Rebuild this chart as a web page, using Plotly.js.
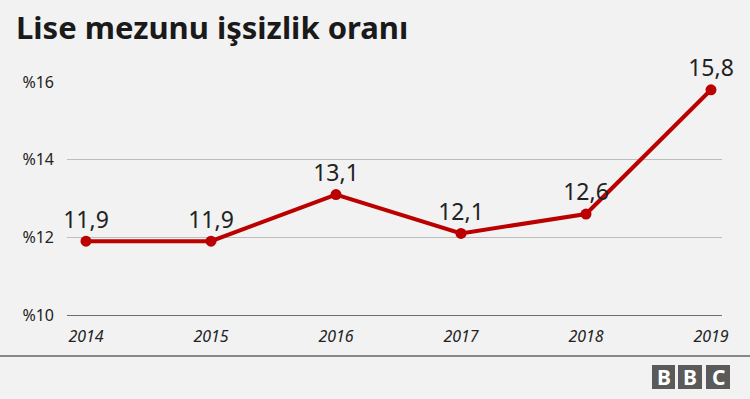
<!DOCTYPE html>
<html><head><meta charset="utf-8">
<script src="https://cdn.plot.ly/plotly-3.0.1.min.js"></script>
<style>html,body{margin:0;padding:0;background:#f2f2f2;}#chart{width:750px;height:399px;}</style>
</head><body><div id="chart"></div>
<script>
const years = ['2014','2015','2016','2017','2018','2019'];
const rates = [11.9, 11.9, 13.1, 12.1, 12.6, 15.8];
const rateLabels = ['11,9','11,9','13,1','12,1','12,6','15,8'];
const yTickVals = [10, 12, 14, 16];
const yTickText = ['%10', '%12', '%14', '%16'];

const FONT = 'Noto Sans, Open Sans, sans-serif';
const L = 67, R = 722, T = 82, B = 315;
const px = x => (x - L) / (R - L);
const py = y => (B - y) / (B - T);

const xNum = years.map(Number);

const trace = {
  x: xNum, y: rates, text: rateLabels,
  mode: 'lines+markers+text', type: 'scatter',
  line: {color: '#bb0000', width: 4},
  marker: {color: '#bb0000', size: 11},
  textposition: 'top center',
  textfont: {family: FONT, size: 23, color: '#222222'},
  cliponaxis: false, hoverinfo: 'none'
};

const boxes = [[652, 675], [678, 702], [706, 730]];
const shapes = [
  {type: 'line', xref: 'paper', yref: 'paper', x0: px(0), x1: px(750), y0: py(356), y1: py(356), line: {color: '#888888', width: 2}}
];
const annotations = [];
const letters = ['B', 'B', 'C'];
boxes.forEach((b, i) => {
  shapes.push({type: 'rect', xref: 'paper', yref: 'paper', x0: px(b[0]), x1: px(b[1]), y0: py(389), y1: py(365), fillcolor: '#5a5a5a', line: {width: 0}});
  annotations.push({xref: 'paper', yref: 'paper', x: px((b[0] + b[1]) / 2), y: py(377), text: '<b>' + letters[i] + '</b>', showarrow: false, xanchor: 'center', yanchor: 'middle', font: {family: FONT, size: 21, color: '#ffffff'}});
});

const layout = {
  width: 750, height: 399,
  paper_bgcolor: '#f2f2f2', plot_bgcolor: '#f2f2f2',
  margin: {l: L, r: 750 - R, t: T, b: 399 - B, pad: 0},
  title: {text: '<b>Lise mezunu işsizlik oranı</b>', x: 16 / 750, xanchor: 'left', xref: 'container', y: 1 - 28 / 399, yanchor: 'middle', yref: 'container',
          font: {family: FONT, size: 31, color: '#1a1a1a'}},
  showlegend: false,
  xaxis: {
    range: [2014 - 19 / 125, 2019 + 11 / 125],
    tickvals: xNum, ticktext: years,
    showgrid: false, zeroline: false,
    showline: true, linecolor: '#6e6e6e', linewidth: 1,
    ticks: '', ticklabelstandoff: 7,
    tickfont: {family: FONT, size: 16, color: '#222222', style: 'italic', weight: 400},
    fixedrange: true
  },
  yaxis: {
    range: [10, 16],
    tickvals: yTickVals, ticktext: yTickText,
    showgrid: true, gridcolor: '#bdbdbd', gridwidth: 1,
    zeroline: false, showline: false,
    ticks: '', ticklabelstandoff: 12,
    tickfont: {family: FONT, size: 16, color: '#222222', weight: 400},
    fixedrange: true
  },
  shapes: shapes,
  annotations: annotations
};

Plotly.newPlot('chart', [trace], layout, {displayModeBar: false, staticPlot: true});
</script></body></html>
